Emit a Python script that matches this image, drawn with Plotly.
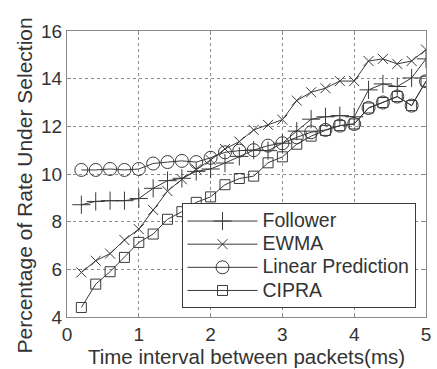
import plotly.graph_objects as go

x_ms = [0.2, 0.4, 0.6, 0.8, 1.0, 1.2, 1.4, 1.6, 1.8, 2.0, 2.2, 2.4, 2.6, 2.8, 3.0,
        3.2, 3.4, 3.6, 3.8, 4.0, 4.2, 4.4, 4.6, 4.8, 5.0]

follower = [8.71, 8.85, 8.88, 8.88, 8.97, 9.40, 9.72, 9.82, 10.11, 10.21, 10.46, 10.74,
            11.00, 10.98, 11.29, 11.80, 12.30, 12.40, 12.45, 12.40, 13.53, 13.78, 13.67,
            14.03, 14.83]
ewma = [5.87, 6.36, 6.66, 7.23, 7.69, 8.49, 9.28, 9.78, 10.20, 10.59, 11.05, 11.36,
        11.85, 12.06, 12.28, 13.08, 13.43, 13.60, 13.90, 13.90, 14.74, 14.83, 14.62,
        14.74, 15.22]
linear_pred = [10.17, 10.17, 10.21, 10.17, 10.21, 10.44, 10.50, 10.55, 10.50, 10.68,
               10.91, 10.98, 11.00, 11.19, 11.29, 11.54, 11.75, 11.85, 12.03, 12.10,
               12.77, 13.00, 13.25, 12.87, 13.89]
cipra = [4.40, 5.38, 5.90, 6.50, 7.13, 7.48, 8.10, 8.42, 8.81, 9.04, 9.55, 9.81, 9.91,
         10.47, 10.72, 11.25, 11.59, 11.83, 12.03, 12.10, 12.77, 13.00, 13.25, 12.87, 13.89]

series_names = ["Follower", "EWMA", "Linear Prediction", "CIPRA"]
series_values = [follower, ewma, linear_pred, cipra]
symbols = ["cross-thin-open", "x-thin-open", "circle-open", "square-open"]
sizes = [13, 10, 13, 10]

x_tick_labels = ["0", "1", "2", "3", "4", "5"]
y_tick_labels = ["4", "6", "8", "10", "12", "14", "16"]

line_col = "#3a3a3a"
font_col = "#333333"
fam = "Liberation Sans, Arial, sans-serif"

fig = go.Figure()
for name, vals, sym, sz in zip(series_names, series_values, symbols, sizes):
    fig.add_trace(go.Scatter(
        x=x_ms, y=vals, mode="lines+markers",
        name='<span style="font-size:19.5px">' + name + "</span>",
        line=dict(color=line_col, width=1),
        marker=dict(symbol=sym, size=sz, color=line_col,
                    line=dict(color=line_col, width=1)),
    ))

axis_common = dict(
    showgrid=True, gridcolor="#8a8a8a", griddash="dot", gridwidth=1,
    showline=True, linecolor="#8a8a8a", linewidth=1, mirror="ticks",
    ticks="inside", ticklen=4, tickcolor="#8a8a8a",
    zeroline=False,
    tickfont=dict(size=19, color=font_col, family=fam),
)

fig.update_xaxes(
    range=[0, 5], tickmode="array",
    tickvals=[float(t) for t in x_tick_labels], ticktext=x_tick_labels,
    title=dict(text="Time interval between packets(ms)", standoff=2,
               font=dict(size=20.5, color=font_col, family=fam)),
    **axis_common,
)
fig.update_yaxes(
    range=[4, 16], tickmode="array",
    tickvals=[float(t) for t in y_tick_labels], ticktext=y_tick_labels,
    **axis_common,
)

fig.add_annotation(
    text="Percentage of Rate Under Selection", textangle=-90,
    xref="paper", yref="paper", x=0, xshift=-29, y=0.458,
    xanchor="right", yanchor="middle", showarrow=False,
    font=dict(size=21, color=font_col, family=fam),
)

fig.add_annotation(
    text="(a)", xref="paper", yref="paper", x=0.5, y=1.0, yshift=31,
    xanchor="center", yanchor="bottom", showarrow=False,
    font=dict(size=24, color=font_col, family=fam),
)

fig.update_layout(
    width=437, height=369,
    margin=dict(l=67, r=6, t=31, b=52),
    paper_bgcolor="white", plot_bgcolor="white",
    showlegend=True,
    legend=dict(
        x=0.319, y=0.397, xanchor="left", yanchor="top",
        bgcolor="white", bordercolor="#3a3a3a", borderwidth=1,
        font=dict(size=15.5, color=font_col, family=fam),
        itemwidth=70, tracegroupgap=0,
    ),
)

fig.write_html("out.html")
